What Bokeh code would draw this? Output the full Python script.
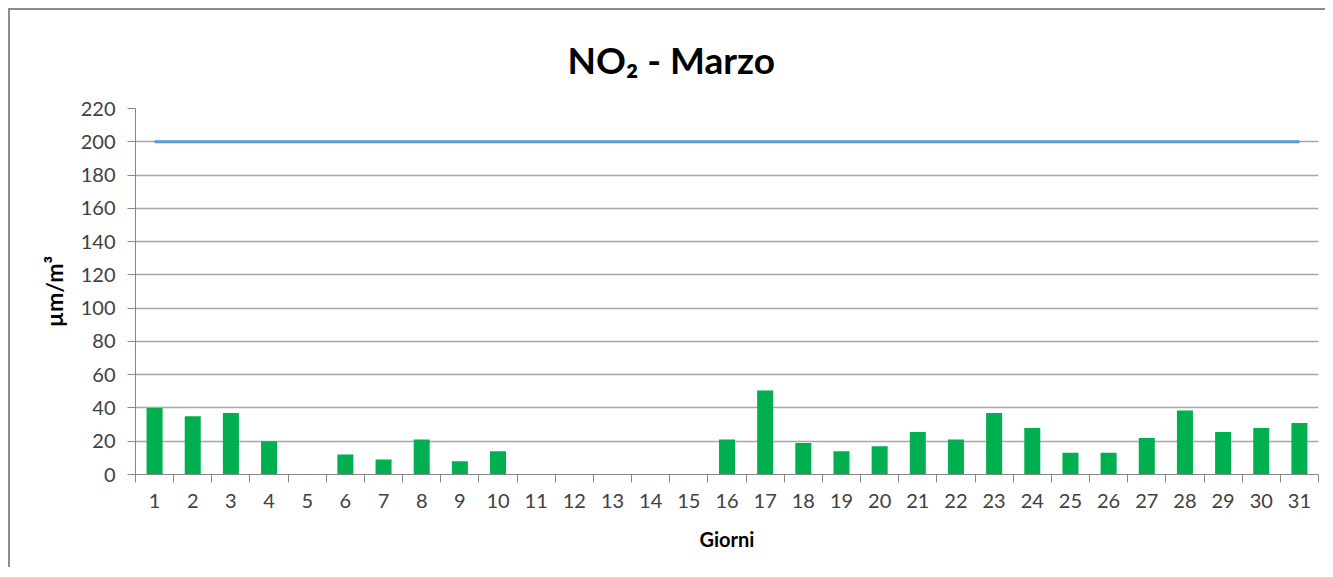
from bokeh.plotting import figure
from bokeh.models import FixedTicker, Range1d, ColumnDataSource
from bokeh.embed import file_html
from bokeh.resources import INLINE

days = list(range(1, 32))
no2 = [40, 35, 37, 20, float("nan"), 12, 9, 21, 8, 14,
       float("nan"), float("nan"), float("nan"), float("nan"), float("nan"),
       21, 50.5, 19, 14, 17, 25.5, 21, 37, 28, 13, 13, 22, 38.5, 25.5, 28, 31]
limit = [200] * 31
y_ticks = list(range(0, 221, 20))

FONT = "Lato"
TXT = "#404040"
GRID = "#a6a6a6"

src = ColumnDataSource(dict(day=days, no2=no2, limit=limit))

p = figure(width=1317, height=559, output_backend="svg", toolbar_location=None,
           x_range=Range1d(0.5, 31.5), y_range=Range1d(0, 220),
           min_border_left=125, min_border_right=9, min_border_top=98,
           min_border_bottom=95, background_fill_color="white",
           border_fill_color="white", outline_line_color=None)
p.styles = {"border-top": "2px solid #8c8c8c", "border-left": "2px solid #8c8c8c",
            "margin-left": "8px", "margin-top": "8px"}

p.title.text = "NO\u2082 - Marzo"
p.title.align = "left"
p.title.vertical_align = "top"
p.title.offset = 432
p.title.text_font = FONT
p.title.text_font_size = "37px"
p.title.text_font_style = "bold"
p.title.text_color = "#000000"
p.title.standoff = 50

p.vbar(x="day", top="no2", width=0.42, source=src, color="#00b050", line_color=None)
p.line(x="day", y="limit", source=src, line_color="#5b9bd5", line_width=3)

# y axis
p.yaxis.ticker = FixedTicker(ticks=y_ticks)
p.yaxis.axis_label = "\u00b5m/m\u00b3"
p.yaxis.axis_label_text_font = FONT
p.yaxis.axis_label_text_font_size = "23px"
p.yaxis.axis_label_text_font_style = "bold"
p.yaxis.axis_label_text_color = "#000000"
p.yaxis.axis_label_standoff = 10
p.yaxis.major_label_text_font = FONT
p.yaxis.major_label_text_font_size = "20px"
p.yaxis.major_label_text_color = TXT
p.yaxis.major_label_standoff = 12
p.yaxis.axis_line_color = "#868686"
p.yaxis.major_tick_line_color = "#868686"
p.yaxis.major_tick_out = 8
p.yaxis.major_tick_in = 0
p.yaxis.minor_tick_line_color = None

# x axis
p.xaxis.ticker = FixedTicker(ticks=days, minor_ticks=[d + 0.5 for d in range(0, 32)])
p.xaxis.axis_label = "Giorni"
p.xaxis.axis_label_text_font = FONT
p.xaxis.axis_label_text_font_size = "20px"
p.xaxis.axis_label_text_font_style = "bold"
p.xaxis.axis_label_text_color = "#000000"
p.xaxis.axis_label_standoff = 16
p.xaxis.major_label_text_font = FONT
p.xaxis.major_label_text_font_size = "20px"
p.xaxis.major_label_text_color = TXT
p.xaxis.major_label_standoff = 11
p.xaxis.axis_line_color = "#868686"
p.xaxis.major_tick_line_color = None
p.xaxis.major_tick_out = 8
p.xaxis.major_tick_in = 0
p.xaxis.minor_tick_line_color = "#868686"
p.xaxis.minor_tick_out = 8
p.xaxis.minor_tick_in = 0

p.xgrid.grid_line_color = None
p.ygrid.grid_line_color = GRID
p.ygrid.grid_line_width = 1.3

open("out.html", "w").write(file_html(p, INLINE))
